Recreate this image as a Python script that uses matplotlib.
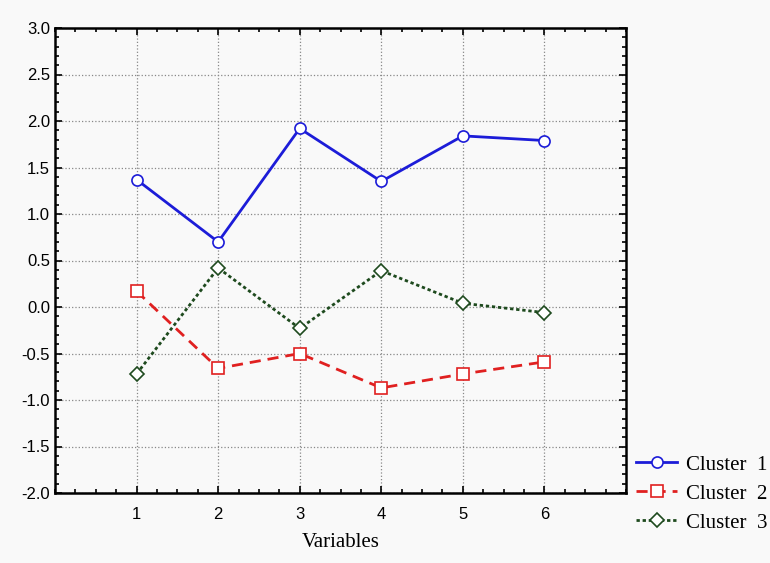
import matplotlib
matplotlib.use('Agg')
from matplotlib import pyplot as plt
from matplotlib.ticker import MultipleLocator

variables = [1, 2, 3, 4, 5, 6]
cluster1 = [1.37, 0.70, 1.92, 1.35, 1.84, 1.79]
cluster2 = [0.17, -0.66, -0.50, -0.87, -0.72, -0.59]
cluster3 = [-0.72, 0.42, -0.23, 0.39, 0.04, -0.06]

bg = '#f9f9f9'
fig = plt.figure(figsize=(7.7, 5.63), dpi=100, facecolor=bg)
ax = fig.add_axes([55 / 770, 1 - 493 / 563, 571 / 770, 465 / 563], facecolor=bg)

ax.plot(variables, cluster1, c='#1c1cd8', lw=2, marker='o', ms=8, mfc='white', mec='#1c1cd8', mew=1.2,
        label='Cluster  1')
ax.plot(variables, cluster2, c='#e02020', lw=2, ls=(0, (4, 2.5)), marker='s', ms=8, mfc='white',
        mec='#e02020', mew=1.2, label='Cluster  2')
ax.plot(variables, cluster3, c='#1e4a1e', lw=2, ls=(0, (1.2, 1)), marker='D', ms=7, mfc='white',
        mec='#1e4a1e', mew=1.2, label='Cluster  3')

ax.set_xlim(0, 7)
ax.set_ylim(-2, 3)
ax.set_xticks(variables)
ax.xaxis.set_minor_locator(MultipleLocator(0.25))
ax.yaxis.set_major_locator(MultipleLocator(0.5))
ax.yaxis.set_minor_locator(MultipleLocator(0.1))
ax.yaxis.set_major_formatter(matplotlib.ticker.FormatStrFormatter('%.1f'))
ax.grid(True, which='major', ls=':', c='#888888', lw=0.9)
ax.set_axisbelow(True)
ax.tick_params(which='both', direction='in', top=True, right=True, width=1.2, color='black')
ax.tick_params(which='major', length=5, labelsize=12)
ax.tick_params(which='minor', length=3)
ax.tick_params(axis='x', pad=10)
for lab in ax.get_xticklabels() + ax.get_yticklabels():
    lab.set_family('Liberation Sans')
for sp in ax.spines.values():
    sp.set_linewidth(1.8)

ax.set_xlabel('Variables', family='Liberation Serif', fontsize=15, labelpad=8)

leg = ax.legend(loc='lower left', bbox_to_anchor=(1.017, -0.085), frameon=False,
                prop={'family': 'Liberation Serif', 'size': 15}, handlelength=2.0,
                handletextpad=0.4, labelspacing=0.45, borderpad=0, borderaxespad=0)

fig.savefig('out.png', dpi=100, facecolor=bg)
